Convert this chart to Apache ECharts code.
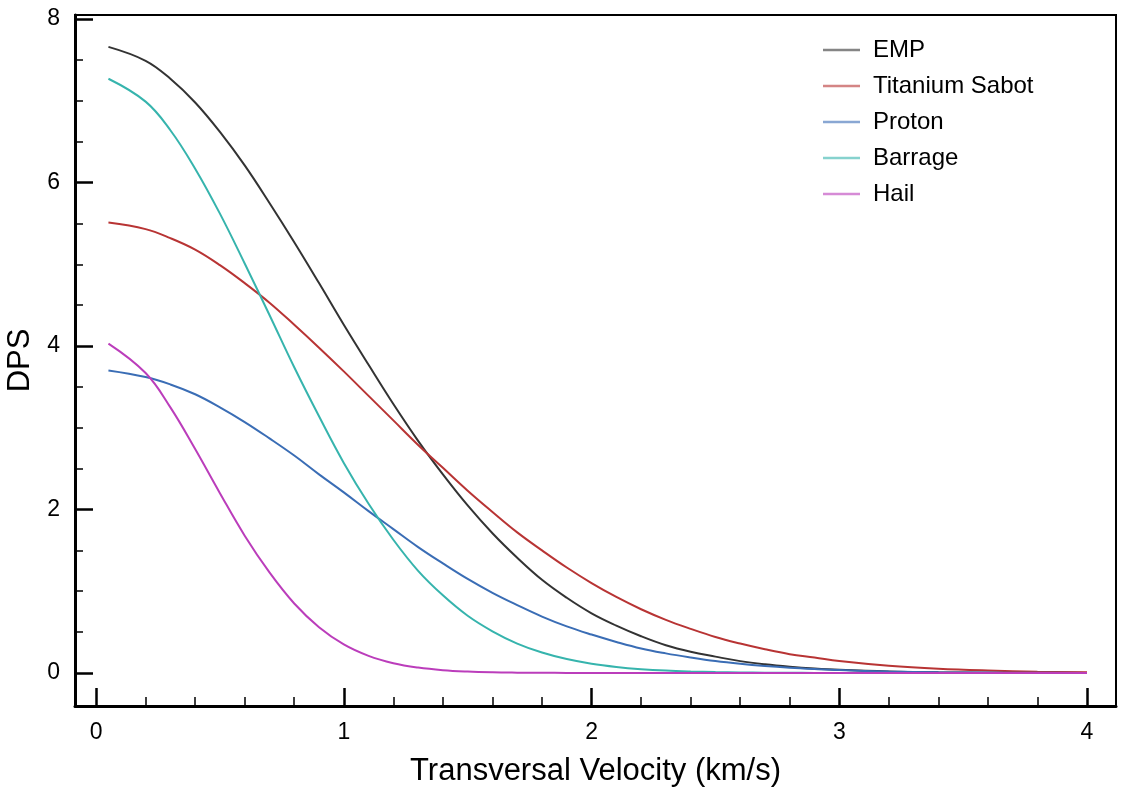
<!DOCTYPE html>
<html>
<head>
<meta charset="utf-8">
<script src="https://cdn.jsdelivr.net/npm/echarts@6/dist/echarts.min.js"></script>
<style>
html,body{margin:0;padding:0;background:#fff;}
#chart{width:1121px;height:787px;}
</style>
</head>
<body>
<div id="chart"></div>
<script>
const velocity = [0.05,0.2,0.3,0.4,0.5,0.6,0.7,0.8,0.9,1.0,
  1.1,1.2,1.3,1.4,1.5,1.6,1.7,1.8,1.9,2.0,
  2.1,2.2,2.3,2.4,2.5,2.6,2.7,2.8,2.9,3.0,
  3.2,3.4,3.6,3.8,4.0];
const emp = [7.66,7.49,7.27,6.98,6.62,6.21,5.75,5.27,4.77,4.26,
  3.77,3.29,2.84,2.43,2.05,1.71,1.41,1.14,0.92,0.73,
  0.58,0.45,0.34,0.26,0.20,0.145,0.106,0.077,0.055,0.039,
  0.019,0.009,0.004,0.002,0.001];
const titaniumSabot = [5.51,5.43,5.32,5.18,4.99,4.77,4.53,4.26,3.98,3.69,
  3.39,3.09,2.79,2.51,2.23,1.97,1.72,1.50,1.29,1.10,
  0.93,0.78,0.65,0.54,0.44,0.36,0.29,0.23,0.19,0.147,
  0.089,0.052,0.030,0.016,0.009];
const proton = [3.70,3.62,3.53,3.41,3.25,3.07,2.87,2.66,2.43,2.21,
  1.98,1.76,1.54,1.34,1.15,0.98,0.83,0.69,0.57,0.47,
  0.38,0.30,0.24,0.19,0.146,0.112,0.085,0.064,0.048,0.035,
  0.018,0.009,0.0045,0.002,0.001];
const barrage = [7.27,6.99,6.64,6.17,5.62,5.01,4.38,3.74,3.14,2.57,
  2.07,1.63,1.25,0.95,0.70,0.51,0.36,0.25,0.17,0.113,
  0.074,0.047,0.029,0.018,0.011,0.006,0.004,0.002,0.001,0.0006,
  0,0,0,0,0];
const hail = [4.03,3.67,3.25,2.74,2.20,1.68,1.23,0.85,0.56,0.35,
  0.21,0.12,0.066,0.034,0.017,0.008,0.004,0.002,0.001,0,
  0,0,0,0,0,0,0,0,0,0,
  0,0,0,0,0];
const seriesNames = ['EMP','Titanium Sabot','Proton','Barrage','Hail'];
const seriesColors = ['#333333','#b83434','#3a6db5','#36b4ad','#bb3dbb'];
const xMajorTicks = [0,1,2,3,4];
const xMinorTicks = [0.2,0.4,0.6,0.8,1.2,1.4,1.6,1.8,2.2,2.4,2.6,2.8,3.2,3.4,3.6,3.8];
const yMajorTicks = [0,2,4,6,8];
const yMinorTicks = [0.5,1,1.5,2.5,3,3.5,4.5,5,5.5,6.5,7,7.5];

const allValues = [emp, titaniumSabot, proton, barrage, hail];
const font = "'Liberation Sans', Arial, Helvetica, sans-serif";

const chart = echarts.init(document.getElementById('chart'), null, {renderer:'canvas'});
const option = {
  animation: false,
  backgroundColor: '#ffffff',
  grid: {left: 75, top: 15, width: 1041, height: 691, containLabel: false, outerBoundsMode: 'none',
    show: true, borderColor: '#000', borderWidth: 2, backgroundColor: 'transparent'},
  legend: {
    orient: 'vertical', left: 818, top: 33,
    data: seriesNames,
    icon: 'rect', itemWidth: 37, itemHeight: 2.5, itemGap: 12,
    itemStyle: {opacity: 0.6},
    textStyle: {fontFamily: font, fontSize: 24, color: '#000', lineHeight: 24, padding: [0,0,0,8]}
  },
  xAxis: [
    {
      type: 'value', min: -0.085, max: 4.117, position: 'bottom',
      name: 'Transversal Velocity (km/s)', nameLocation: 'middle', nameGap: 50,
      nameTextStyle: {fontFamily: font, fontSize: 31, color: '#000'},
      axisLine: {show: true, onZero: false, lineStyle: {color: '#000', width: 3}},
      axisTick: {show: true, inside: true, length: 18, customValues: xMajorTicks, lineStyle: {color: '#000', width: 2.5}},
      axisLabel: {show: true, customValues: xMajorTicks, margin: 15, fontFamily: font, fontSize: 23, color: '#000'},
      splitLine: {show: false}
    },
    {
      type: 'value', min: -0.085, max: 4.117, position: 'bottom',
      axisLine: {show: false, onZero: false},
      axisTick: {show: true, inside: true, length: 9, customValues: xMinorTicks, lineStyle: {color: '#000', width: 1.5}},
      axisLabel: {show: false},
      splitLine: {show: false}
    }
  ],
  yAxis: [
    {
      type: 'value', min: -0.404, max: 8.05, position: 'left',
      name: 'DPS', nameLocation: 'middle', nameGap: 36,
      nameTextStyle: {fontFamily: font, fontSize: 31, color: '#000'},
      axisLine: {show: true, onZero: false, lineStyle: {color: '#000', width: 3}},
      axisTick: {show: true, inside: true, length: 18, customValues: yMajorTicks, lineStyle: {color: '#000', width: 2.5}},
      axisLabel: {show: true, customValues: yMajorTicks, margin: 15, fontFamily: font, fontSize: 23, color: '#000'},
      splitLine: {show: false}
    },
    {
      type: 'value', min: -0.404, max: 8.05, position: 'left',
      axisLine: {show: false, onZero: false},
      axisTick: {show: true, inside: true, length: 8, customValues: yMinorTicks, lineStyle: {color: '#000', width: 1.5}},
      axisLabel: {show: false},
      splitLine: {show: false}
    }
  ],
  series: seriesNames.map((name, i) => ({
    name: name,
    type: 'line',
    xAxisIndex: 0, yAxisIndex: 0,
    data: velocity.map((v, j) => [v, allValues[i][j]]),
    smooth: 0.4,
    showSymbol: false,
    color: seriesColors[i],
    lineStyle: {color: seriesColors[i], width: 2},
    z: 2 + i
  }))
};
chart.setOption(option);
</script>
</body>
</html>
